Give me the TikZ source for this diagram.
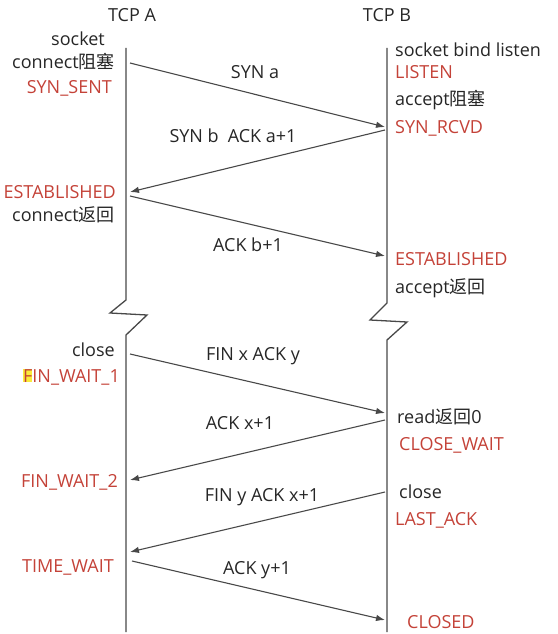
\documentclass[tikz,border=0pt]{standalone}
\usepackage{fontspec}
\setmainfont{Open Sans}
\newfontfamily\cjk{Noto Sans CJK SC}
\usetikzlibrary{arrows.meta, positioning}
\definecolor{stateRed}{RGB}{196,66,56}
\definecolor{lineGray}{RGB}{72,72,72}
\definecolor{markYellow}{RGB}{250,235,60}

\begin{document}
\begin{tikzpicture}[
    x=1pt, y=-1pt,
    lbl/.style={font=\fontsize{18}{21}\selectfont, text=black!85, inner sep=1pt},
    state/.style={lbl, text=stateRed},
    life/.style={lineGray, line width=1.3pt},
    msg/.style={-{Latex[length=9pt,width=6.5pt]}, lineGray, line width=1.1pt}
]
\useasboundingbox (0,0) rectangle (557,634);

% lifelines with break marks
\draw[life] (126,48) -- (126,300) -- (110,313) -- (147,315) -- (126,335) -- (126,632);
\draw[life] (387,48) -- (387,303) -- (370,320) -- (407,322) -- (387,340) -- (387,632);

% headers
\node[lbl] (tcpA) at (132,15) {TCP A};
\node[lbl] (tcpB) at (387,15) {TCP B};

% TCP A side
\node[lbl, anchor=east] (aSocket) at (106,39) {socket};
\node[lbl, anchor=east] (aConnect) at (116,62) {connect{\cjk 阻塞}};
\node[state, anchor=east] (aSynSent) at (113,88) {SYN\_SENT};
\node[state, anchor=east] (aEstab) at (117,192) {ESTABLISHED};
\node[lbl, anchor=east] (aConnRet) at (116,215) {connect{\cjk 返回}};
\node[lbl, anchor=east] (aClose) at (116,350) {close};
\node[state, anchor=east] (aFinWait1) at (121,377) {{\setlength\fboxsep{0pt}\colorbox{markYellow}{F}}IN\_WAIT\_1};
\node[state, anchor=east] (aFinWait2) at (119,482) {FIN\_WAIT\_2};
\node[state, anchor=east] (aTimeWait) at (115,567) {TIME\_WAIT};

% TCP B side
\node[lbl, anchor=west] (bSocket) at (394,50) {socket bind listen};
\node[state, anchor=west] (bListen) at (394,72) {LISTEN};
\node[lbl, anchor=west] (bAccept) at (394,100) {accept{\cjk 阻塞}};
\node[state, anchor=west] (bSynRcvd) at (394,128) {SYN\_RCVD};
\node[state, anchor=west] (bEstab) at (394,259) {ESTABLISHED};
\node[lbl, anchor=west] (bAccRet) at (394,288) {accept{\cjk 返回}};
\node[lbl, anchor=west] (bRead) at (396,417) {read{\cjk 返回}0};
\node[state, anchor=west] (bCloseWait) at (398,445) {CLOSE\_WAIT};
\node[lbl, anchor=west] (bClose) at (398,492) {close};
\node[state, anchor=west] (bLastAck) at (394,520) {LAST\_ACK};
\node[state, anchor=west] (bClosed) at (406,622) {CLOSED};

% message end points on the lifelines
\coordinate (a1) at (130,63);   \coordinate (b1) at (385,127);
\coordinate (b2) at (385,130);  \coordinate (a2) at (130,192);
\coordinate (a3) at (130,196);  \coordinate (b3) at (385,256);
\coordinate (a4) at (130,354);  \coordinate (b4) at (385,413);
\coordinate (b5) at (385,420);  \coordinate (a5) at (130,480);
\coordinate (b6) at (385,492);  \coordinate (a6) at (130,552);
\coordinate (a7) at (132,561);  \coordinate (b7) at (385,620);

% messages
\draw[msg] (a1) -- (b1);
\draw[msg] (b2) -- (a2);
\draw[msg] (a3) -- (b3);
\draw[msg] (a4) -- (b4);
\draw[msg] (b5) -- (a5);
\draw[msg] (b6) -- (a6);
\draw[msg] (a7) -- (b7);

% message labels
\node[lbl] (synA) at (255,72) {SYN a};
\node[lbl] (synB) at (233,136) {SYN b\enspace ACK a+1};
\node[lbl] (ackB) at (248,245) {ACK b+1};
\node[lbl] (finX) at (253,356) {FIN x ACK y};
\node[lbl] (ackX) at (240,423) {ACK x+1};
\node[lbl] (finY) at (262,497) {FIN y ACK x+1};
\node[lbl] (ackY) at (257,570) {ACK y+1};

\end{tikzpicture}
\end{document}
